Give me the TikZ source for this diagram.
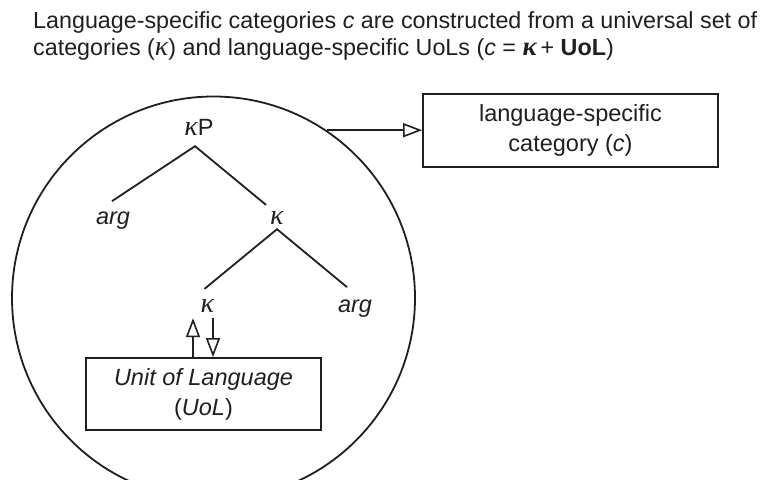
\documentclass[tikz,border=0pt]{standalone}
\usepackage{fontspec}
\usepackage{graphicx}
\setmainfont{Liberation Sans}
\newfontfamily\grk{Liberation Serif}
\usetikzlibrary{arrows.meta,calc}
\newcommand{\kap}{{\grk\itshape\scalebox{1.2}{κ}}}
\newcommand{\bkap}{{\grk\bfseries\itshape\scalebox{1.15}{κ}}}
\begin{document}
\begin{tikzpicture}[x=1pt,y=-1pt,
  ink/.style={draw=black!88, line width=1.8pt},
  oa/.style={ink, -{Triangle[open, length=19pt, width=14pt, line width=1.6pt]}},
  treelbl/.style={inner sep=0pt, anchor=base, font=\fontsize{23.5}{27}\selectfont, text=black!88},
  boxlbl/.style={ink, inner sep=0pt, align=center, font=\fontsize{23.5}{30}\selectfont, text=black!88},
  titlelbl/.style={inner sep=0pt, anchor=base west, font=\fontsize{23.3}{27}\selectfont, text=black!88}]
\useasboundingbox (0,0) rectangle (762,479);
\clip (0,0) rectangle (762,479);
% title
\node[titlelbl] (t1) at (33,28) {Language-specific categories \textit{c} are constructed from a universal set of};
\node[titlelbl] (t2) at (33,55) {categories (\kap) and language-specific UoLs (\textit{c} = \bkap\,+ \textbf{UoL})};
% big circle
\node[ink, circle, minimum size=403pt, inner sep=0pt] (big) at (213.5,298) {};
% category box
\node[boxlbl, minimum width=295pt, minimum height=73pt] (cat) at (570.5,130.5) {language-specific\\category (\textit{c})};
% tree
\node[treelbl] (kP) at (199,135) {\kap P};
\node[treelbl] (arg1) at (113,224) {\textit{arg}};
\node[treelbl] (k2) at (277,224) {\kap};
\node[treelbl] (k3) at (207.5,312) {\kap};
\node[treelbl] (arg2) at (355,312) {\textit{arg}};
\draw[ink] ([shift={(-1,-10)}]arg1.north) -- ([shift={(-4,11)}]kP.south) -- ([shift={(-11,-6)}]k2.north);
\draw[ink] ([shift={(-3,-10)}]k3.north) -- ([shift={(0,5)}]k2.south) -- ([shift={(-8,-12)}]arg2.north);
% UoL box
\node[boxlbl, minimum width=235pt, minimum height=72pt] (uol) at (203.5,394) {\textit{Unit of Language}\\(\textit{UoL})};
% arrows
\draw[oa] ([xshift=-14.5pt]k3.south |- uol.north) -- ([shift={(-14.5,6)}]k3.south);
\draw[oa] ([shift={(5.5,6)}]k3.south) -- ([xshift=5.5pt]k3.south |- uol.north);
\draw[oa] (big.56.5) -- (big.56.5 -| cat.west);
\end{tikzpicture}
\end{document}
